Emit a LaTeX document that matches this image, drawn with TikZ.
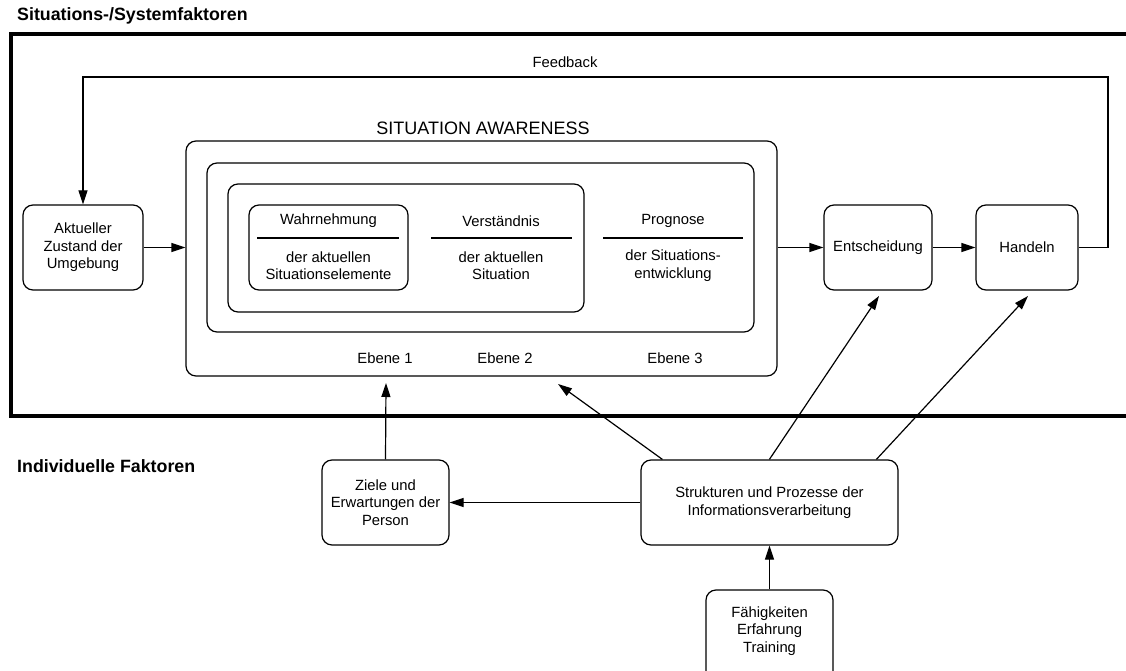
\documentclass[tikz,border=0pt]{standalone}
\usepackage{fontspec}
\setmainfont{Liberation Sans}
\usetikzlibrary{arrows.meta,calc}
\begin{document}
\begin{tikzpicture}[x=1pt,y=-1pt,
  every node/.style={font=\fontsize{14.8}{17.5}\selectfont, inner sep=0pt, align=center},
  rbox/.style={draw, line width=1.2pt, rounded corners=10pt},
  arr/.style={line width=1.2pt, -{Triangle[length=14pt,width=9pt]}},
  frame/.style={line width=3.2pt},
  divider/.style={line width=1.2pt},
  heading/.style={font=\fontsize{17.8}{20}\selectfont\bfseries, anchor=west},
  sahead/.style={font=\fontsize{18}{21}\selectfont}]
\clip (0,0) rectangle (1126,671);
\fill[white] (0,0) rectangle (1126,671);

% headings
\node[heading] (hsys) at (17,16) {Situations-/Systemfaktoren};
\node[heading] (hind) at (17,466) {Individuelle Faktoren};

% system frame (open to the right)
\draw[frame] (1140,34) -- (11,34) -- (11,416) -- (1140,416);

% situation awareness levels
\node[rbox, minimum width=591, minimum height=235] (sa) at (481.5,258.5) {};
\node[sahead] (satitle) at (483,128) {SITUATION AWARENESS};
\node[rbox, minimum width=547, minimum height=169] (lev2) at (480.5,247.5) {};
\node[rbox, minimum width=356, minimum height=128] (lev1) at (406,248) {};
\node[rbox, minimum width=159, minimum height=85] (wahr) at (328.5,247.5) {};

\node (t1) at (328.5,221) {Wahrnehmung};
\draw[divider] (257,238) -- (399,238);
\node (s1) at (328.5,265.5) {der aktuellen\\Situationselemente};

\node (t2) at (501,221) {Verständnis};
\draw[divider] (431,238) -- (572,238);
\node (s2) at (501,265.5) {der aktuellen\\Situation};

\node (t3) at (673,221) {Prognose};
\draw[divider] (603,238) -- (743,238);
\node (s3) at (673,265.5) {der Situations-\\entwicklung};

\node (e1) at (385,358) {Ebene 1};
\node (e2) at (505,358) {Ebene 2};
\node (e3) at (675,358) {Ebene 3};

% process boxes
\node[rbox, minimum width=120, minimum height=85] (akt) at (83,247.5) {Aktueller\\Zustand der\\Umgebung};
\node[rbox, minimum width=108, minimum height=85] (ents) at (878,247.5) {Entscheidung};
\node[rbox, minimum width=102, minimum height=85] (hand) at (1027,247.5) {Handeln};
\node[rbox, minimum width=127, minimum height=85] (ziele) at (385.5,502.5) {Ziele und\\Erwartungen der\\Person};
\node[rbox, minimum width=257, minimum height=85] (strukt) at (769.5,502.5) {Strukturen und Prozesse der\\Informationsverarbeitung};
\node[rbox, minimum width=127, minimum height=100] (faeh) at (769.5,640) {};
\node (faehtxt) at (769.5,631) {Fähigkeiten\\Erfahrung\\Training};

% main flow
\draw[arr] (akt.east) -- (akt.east -| sa.west);
\draw[arr] (sa.east |- ents.west) -- (ents.west);
\draw[arr] (ents.east) -- (hand.west);

% feedback loop
\coordinate (fbr) at (1108,77);
\draw[arr] (hand.east) -| (fbr) -| (akt.north);
\node (fb) at (565,62) {Feedback};

% individual factors
\coordinate (zt) at (386,383);
\coordinate (sat) at (558,384);
\coordinate (et) at (879,296);
\coordinate (ht) at (1028,296);
\draw[arr] (ziele.north) -- (zt);
\draw[arr] (strukt.west) -- (ziele.east);
\draw[arr] ([xshift=22pt]strukt.north west) -- (sat);
\draw[arr] ([xshift=129pt]strukt.north west) -- (et);
\draw[arr] ([xshift=236pt]strukt.north west) -- (ht);
\draw[arr] (faeh.north) -- (strukt.south);
\end{tikzpicture}
\end{document}
